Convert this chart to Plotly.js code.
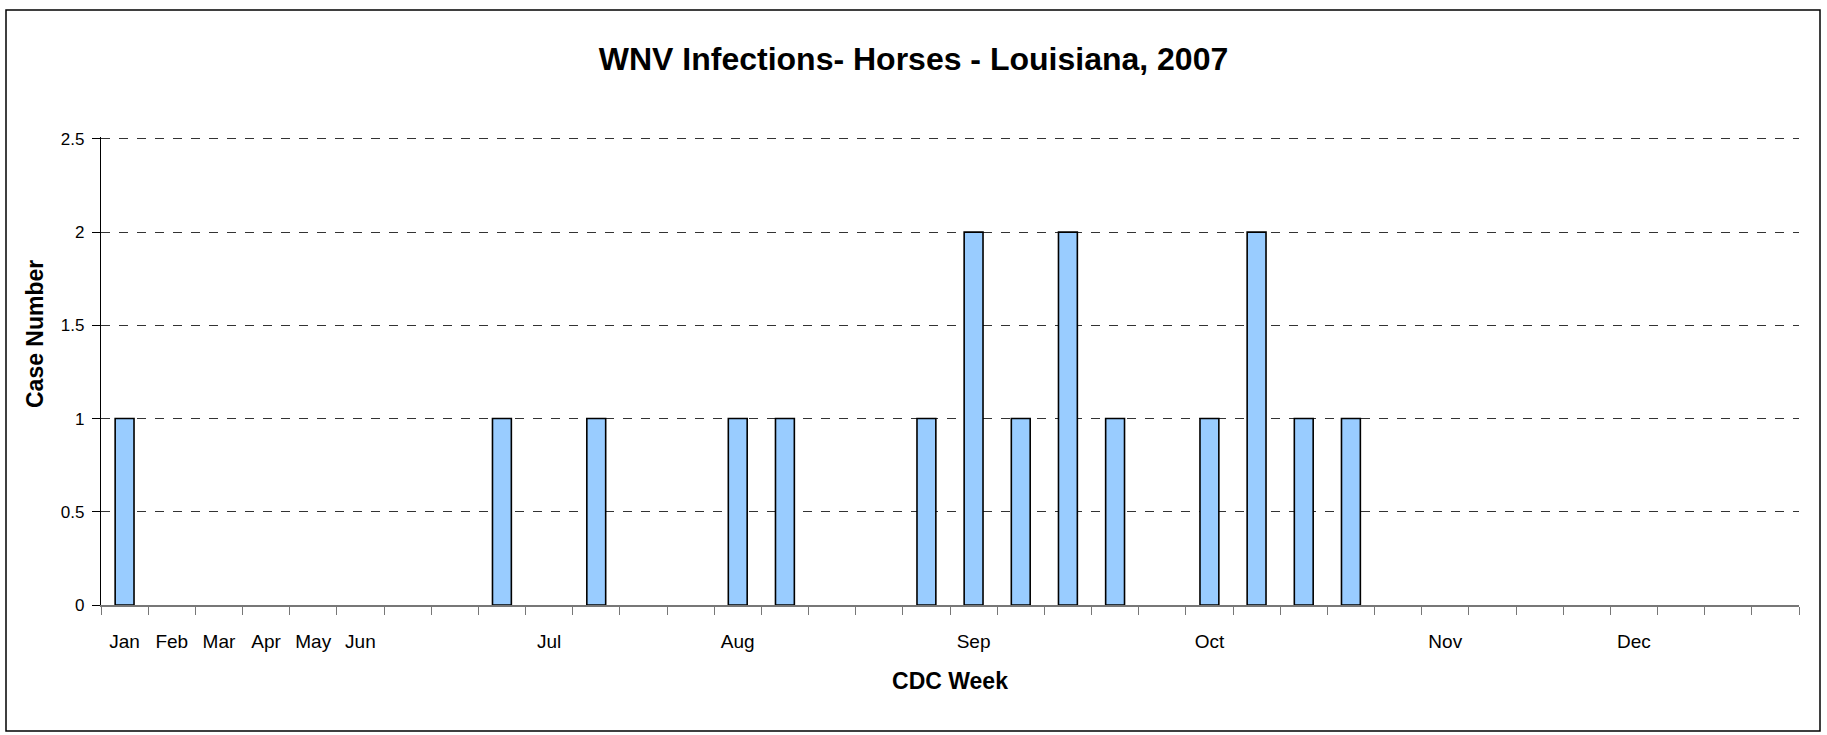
<!DOCTYPE html>
<html>
<head>
<meta charset="utf-8">
<script src="https://cdn.plot.ly/plotly-3.0.1.min.js"></script>
<style>
  html, body { margin: 0; padding: 0; background: #fff; }
  #graph { width: 1827px; height: 735px; }
</style>
</head>
<body>
<div id="graph"></div>
<script>
// WNV infections in horses, Louisiana 2007, by CDC week
// first six slots are Jan..Jun, then one slot per week
var weekLabels = ['Jan', 'Feb', 'Mar', 'Apr', 'May', 'Jun', '', '', '',
  'Jul', '', '', '', 'Aug', '', '', '', '', 'Sep', '', '', '', '',
  'Oct', '', '', '', '', 'Nov', '', '', '', 'Dec', '', '', ''];
var cases = [1, 0, 0, 0, 0, 0, 0, 0, 1,
  0, 1, 0, 0, 1, 1, 0, 0, 1, 2, 1, 2, 1, 0,
  1, 2, 1, 1, 0, 0, 0, 0, 0, 0, 0, 0, 0];
var yTicks = [0, 0.5, 1, 1.5, 2, 2.5];

var n = weekLabels.length;
var x = [], tickvals = [], ticktext = [], bounds = [];
for (var i = 0; i < n; i++) {
  x.push(i);
  if (weekLabels[i] !== '') {
    tickvals.push(i);
    ticktext.push(weekLabels[i]);
  }
}
for (var i = 0; i <= n; i++) bounds.push(i - 0.5);

var font = 'Liberation Sans, Arial, sans-serif';

var trace = {
  x: x,
  y: cases,
  type: 'bar',
  marker: {
    color: '#99CCFF',
    // no outline on empty weeks, Excel draws nothing there
    line: { color: '#000000', width: cases.map(function (v) { return v > 0 ? 1.6 : 0; }) }
  },
  hoverinfo: 'y'
};

// margins in px so the border box can be placed in paper units
// (range goes a bit past 2.5 so plotly keeps the top grid line)
var ml = 101, mr = 28, mt = 137, mb = 130;
var W = 1827 - ml - mr, H = 735 - mt - mb;

var layout = {
  width: 1827,
  height: 735,
  margin: { l: ml, r: mr, t: mt, b: mb },
  paper_bgcolor: '#ffffff',
  plot_bgcolor: '#ffffff',
  font: { family: font, color: '#000000' },
  showlegend: false,
  bargap: 0.6,
  title: {
    text: 'WNV Infections- Horses - Louisiana, 2007',
    font: { family: font, size: 32, color: '#000000', weight: 'bold' },
    xref: 'container', x: 0.5, xanchor: 'center',
    yref: 'container', y: 1 - 59 / 735, yanchor: 'middle'
  },
  xaxis: {
    range: [-0.5, n - 0.5],
    tickmode: 'array',
    tickvals: tickvals,
    ticktext: ticktext,
    ticks: '',
    ticklabelstandoff: 19,
    tickfont: { family: font, size: 19, color: '#000000' },
    showgrid: false,
    zeroline: false,
    showline: true,
    linecolor: '#777777',
    linewidth: 1.5,
    minor: {
      tickmode: 'array',
      tickvals: bounds,
      ticks: 'outside',
      ticklen: 8,
      tickwidth: 1,
      tickcolor: '#777777',
      showgrid: false
    },
    title: {
      text: '<b>CDC Week</b>',
      font: { family: font, size: 23, color: '#000000' },
      standoff: 21
    }
  },
  yaxis: {
    range: [0, 2.51],
    tickmode: 'array',
    tickvals: yTicks,
    ticktext: yTicks.map(String),
    ticks: 'outside',
    ticklen: 8,
    tickwidth: 1,
    tickcolor: '#000000',
    ticklabelstandoff: 4,
    tickfont: { family: font, size: 17, color: '#000000' },
    showgrid: true,
    gridcolor: '#333333',
    gridwidth: 1,
    griddash: 'dash',
    zeroline: false,
    showline: true,
    linecolor: '#000000',
    linewidth: 1.2
  },
  annotations: [{
    text: '<b>Case Number</b>',
    xref: 'paper', yref: 'paper',
    x: (35 - ml) / W, y: (735 - 334 - mb) / H,
    xanchor: 'center', yanchor: 'middle',
    textangle: -90,
    showarrow: false,
    font: { family: font, size: 23, color: '#000000' }
  }],
  shapes: [{
    type: 'rect',
    xref: 'paper', yref: 'paper',
    x0: (6 - ml) / W, x1: (1820 - ml) / W,
    y0: (4 - mb) / H, y1: (725 - mb) / H,
    line: { color: '#000000', width: 1.5 },
    fillcolor: 'rgba(0,0,0,0)',
    layer: 'below'
  }]
};

Plotly.newPlot('graph', [trace], layout, { staticPlot: true, displayModeBar: false });
</script>
</body>
</html>
